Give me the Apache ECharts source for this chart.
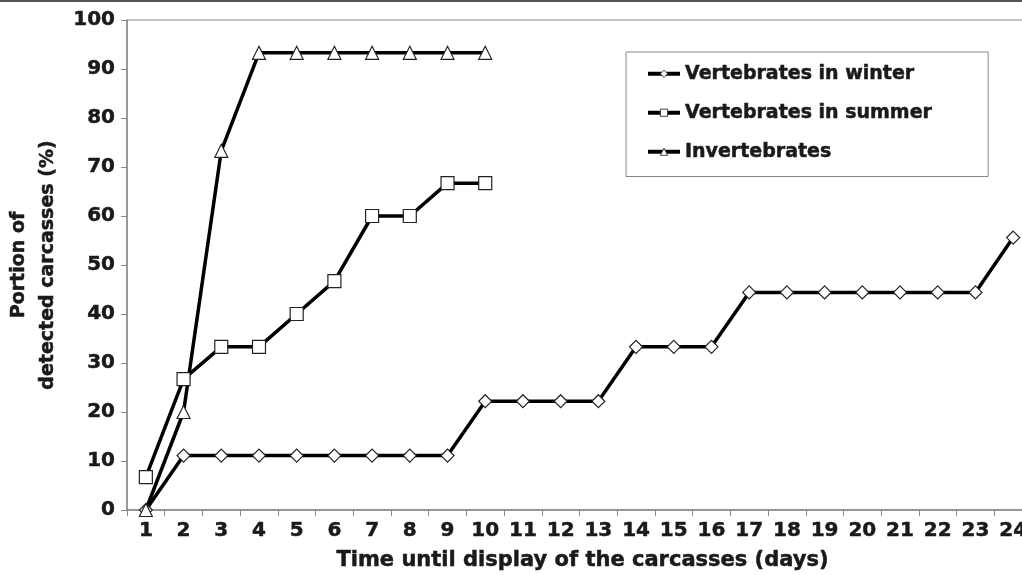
<!DOCTYPE html>
<html><head><meta charset="utf-8">
<script src="https://cdn.jsdelivr.net/npm/echarts@6/dist/echarts.min.js"></script>
<style>html,body{margin:0;padding:0;background:#fff}#c{width:1022px;height:575px}</style>
</head><body><div id="c"></div>
<script>
const days = ['1','2','3','4','5','6','7','8','9','10','11','12','13','14','15','16','17','18','19','20','21','22','23','24'];
const winter = [0,11.1,11.1,11.1,11.1,11.1,11.1,11.1,11.1,22.2,22.2,22.2,22.2,33.3,33.3,33.3,44.4,44.4,44.4,44.4,44.4,44.4,44.4,55.6];
const summer = [6.7,26.7,33.3,33.3,40,46.7,60,60,66.7,66.7];
const invert = [0,20,73.3,93.3,93.3,93.3,93.3,93.3,93.3,93.3];
const yTicks = [0,10,20,30,40,50,60,70,80,90,100];

const font = 'DejaVu Sans';
const fw = 'bold';
const tc = '#1a1a1a';
const heavy = {fontFamily:font, fontWeight:fw, color:tc, textBorderColor:tc, textBorderWidth:0.5};
const chart = echarts.init(document.getElementById('c'), null, {renderer:'canvas'});
function ser(name, data, symbol, size){
  return {name, type:'line', data, symbol, symbolSize:size, showSymbol:true,
    lineStyle:{color:'#000', width:3.5},
    itemStyle:{color:'#fff', borderColor:'#222', borderWidth:1.2},
    emphasis:{disabled:true}, animation:false, z: 2};
}
chart.setOption({
  animation:false,
  backgroundColor:'#fff',
  grid:{left:127, right:-10, top:20, bottom:65, show:true, borderColor:'#888', borderWidth:1,
    containLabel:false, outerBoundsMode:'none'},
  legend:{
    orient:'vertical', left:626, top:52,
    padding:[12,56,15,20], itemGap:19.5,
    backgroundColor:'#fff', borderColor:'#888', borderWidth:1,
    itemWidth:32, itemHeight:9,
    lineStyle:{width:4, color:'#000'},
    itemStyle:{borderWidth:1, borderColor:'#444', color:'#fff'},
    textStyle:Object.assign({fontSize:19}, heavy),
    data:['Vertebrates in winter','Vertebrates in summer','Invertebrates']
  },
  xAxis:{type:'category', data:days, boundaryGap:true,
    name:'Time until display of the carcasses (days)', nameLocation:'middle', nameGap:40,
    nameTextStyle:Object.assign({fontSize:21, padding:[0,0,0,6]}, heavy),
    axisLine:{lineStyle:{color:'#888', width:1.5}},
    axisTick:{show:true, length:6, lineStyle:{color:'#888'}},
    axisLabel:Object.assign({fontSize:20, margin:11}, heavy)
  },
  yAxis:{type:'value', min:0, max:100, interval:10,
    name:'Portion of\ndetected carcasses (%)', nameLocation:'middle', nameGap:59, nameRotate:90,
    nameTextStyle:Object.assign({fontSize:19, lineHeight:29}, heavy),
    axisLine:{show:true, lineStyle:{color:'#888', width:1.5}},
    axisTick:{show:true, length:6, lineStyle:{color:'#888'}},
    splitLine:{show:false},
    axisLabel:Object.assign({fontSize:20, margin:12,
      formatter:v=> yTicks.includes(v)? String(v):''}, heavy)
  },
  graphic:[{type:'rect', shape:{x:0,y:0,width:1022,height:2}, style:{fill:'#555'}}],
  series:[
    ser('Vertebrates in winter', winter, 'diamond', 13),
    ser('Vertebrates in summer', summer, 'rect', 13),
    ser('Invertebrates', invert, 'triangle', 13)
  ]
});
</script></body></html>
